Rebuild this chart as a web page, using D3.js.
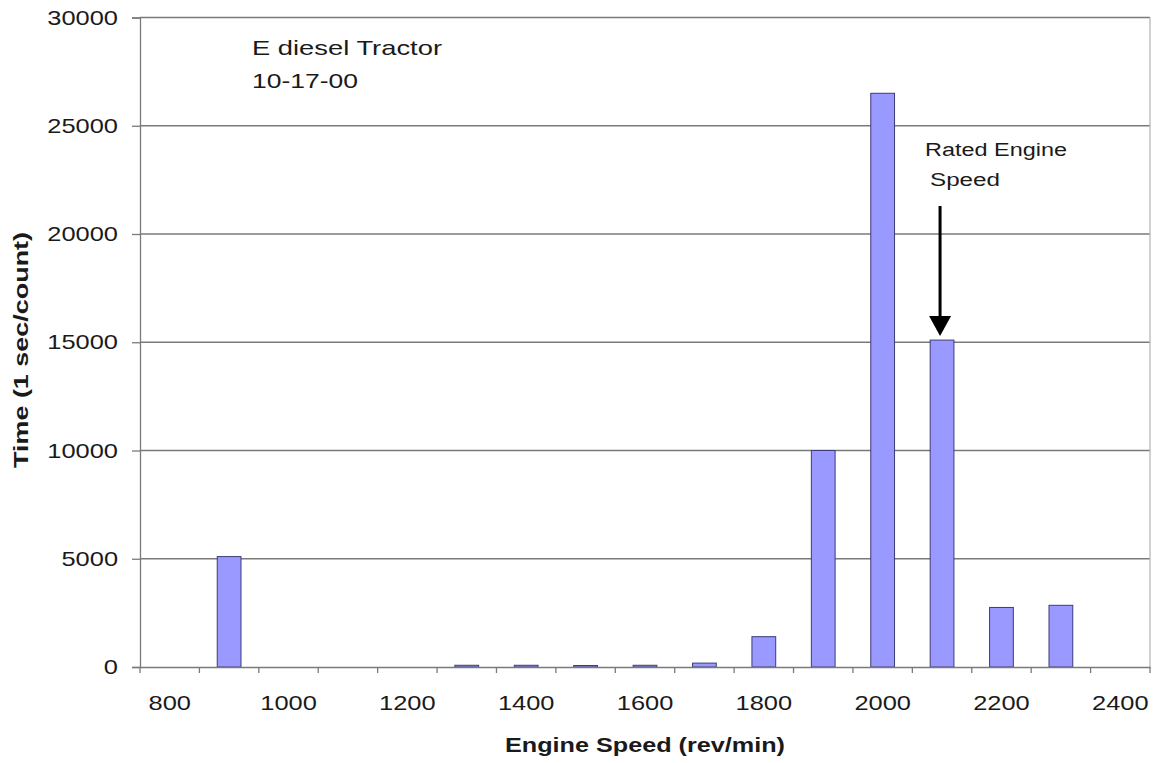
<!DOCTYPE html>
<html>
<head>
<meta charset="utf-8">
<script src="https://cdn.jsdelivr.net/npm/d3@7"></script>
<style>
  html, body { margin: 0; padding: 0; background: #fff; }
  text { font-family: Arial, "Liberation Sans", Helvetica, sans-serif; fill: #1a1a1a; }
</style>
</head>
<body>
<svg id="chart" width="1161" height="763"></svg>
<script>
// ---- data ----
const categories = [800, 900, 1000, 1100, 1200, 1300, 1400, 1500, 1600, 1700, 1800, 1900, 2000, 2100, 2200, 2300, 2400];
const timeCounts = [0, 5100, 0, 0, 0, 80, 80, 70, 80, 180, 1400, 10000, 26500, 15100, 2750, 2850, 0];
const xTickLabels = [800, 1000, 1200, 1400, 1600, 1800, 2000, 2200, 2400];
const yTicks = [0, 5000, 10000, 15000, 20000, 25000, 30000];
const ratedSpeed = 2100;

// ---- layout ----
const svg = d3.select("#chart");
const plotL = 140, plotR = 1150, plotT = 17.5, plotB = 667;
const stretch = 1.21;

const x = d3.scaleBand().domain(categories).range([plotL, plotR]).paddingInner(0.6).paddingOuter(0.3);
const y = d3.scaleLinear().domain([0, 30000]).range([plotB, plotT]);
const step = x.step();

function widen(sel, factor) {
  sel.each(function() {
    const w = this.getComputedTextLength();
    d3.select(this).attr("textLength", w * factor).attr("lengthAdjust", "spacingAndGlyphs");
  });
}

// gridlines
svg.append("g").selectAll("line").data(yTicks.filter(d => d > 0)).join("line")
  .attr("x1", plotL).attr("x2", plotR)
  .attr("y1", d => y(d)).attr("y2", d => y(d))
  .attr("stroke", "#7a7a7a").attr("stroke-width", 1.3);

// right border
svg.append("line").attr("x1", plotR).attr("x2", plotR).attr("y1", plotT).attr("y2", plotB)
  .attr("stroke", "#b8b8b8").attr("stroke-width", 1.3);

// bars
svg.append("g").selectAll("rect").data(categories).join("rect")
  .attr("x", (d) => x(d))
  .attr("width", x.bandwidth())
  .attr("y", (d, i) => y(timeCounts[i]))
  .attr("height", (d, i) => plotB - y(timeCounts[i]))
  .attr("fill", "#9999ff")
  .attr("stroke", (d, i) => timeCounts[i] > 0 ? "#3c3c78" : "none")
  .attr("stroke-width", 1);

// y axis
const yAxis = svg.append("g").attr("transform", `translate(${plotL},0)`)
  .call(d3.axisLeft(y).tickValues(yTicks).tickSize(8).tickPadding(14).tickFormat(d3.format("d")));
yAxis.select(".domain").attr("stroke", "#7a7a7a").attr("stroke-width", 1.3);
yAxis.selectAll(".tick line").attr("stroke", "#7a7a7a").attr("stroke-width", 1.3);
yAxis.selectAll(".tick text").style("font-size", "21px").attr("fill", "#1a1a1a").attr("font-family", null);
widen(yAxis.selectAll(".tick text"), stretch);

// x axis (labels at category centres, ticks at category boundaries)
const xAxis = svg.append("g").attr("transform", `translate(0,${plotB})`)
  .call(d3.axisBottom(x).tickSize(0).tickPadding(28)
    .tickFormat(d => xTickLabels.includes(d) ? d : ""));
xAxis.select(".domain").attr("stroke", "#7a7a7a").attr("stroke-width", 1.3);
xAxis.selectAll(".tick text").style("font-size", "21px").attr("fill", "#1a1a1a").attr("font-family", null);
widen(xAxis.selectAll(".tick text").filter(function() { return this.textContent !== ""; }), stretch);

const boundaries = categories.map(c => x(c) + x.bandwidth() / 2 - step / 2).concat([plotR]);
xAxis.append("g").selectAll("line").data(boundaries).join("line")
  .attr("x1", d => d).attr("x2", d => d).attr("y1", 0).attr("y2", 6)
  .attr("stroke", "#7a7a7a").attr("stroke-width", 1.3);

// axis titles
svg.append("text").attr("x", (plotL + plotR) / 2).attr("y", 752)
  .attr("text-anchor", "middle").style("font-size", "20px").style("font-weight", "bold")
  .attr("textLength", 280).attr("lengthAdjust", "spacingAndGlyphs")
  .text("Engine Speed (rev/min)");

svg.append("text").attr("transform", "translate(28,350) rotate(-90)")
  .attr("text-anchor", "middle").style("font-size", "20px").style("font-weight", "bold")
  .attr("textLength", 236).attr("lengthAdjust", "spacingAndGlyphs")
  .text("Time (1 sec/count)");

// annotations
svg.append("text").attr("x", 252).attr("y", 55).style("font-size", "21px")
  .attr("textLength", 190).attr("lengthAdjust", "spacingAndGlyphs").text("E diesel Tractor");
svg.append("text").attr("x", 252).attr("y", 88).style("font-size", "21px")
  .attr("textLength", 106).attr("lengthAdjust", "spacingAndGlyphs").text("10-17-00");

svg.append("text").attr("x", 925).attr("y", 156).style("font-size", "18px")
  .attr("textLength", 142).attr("lengthAdjust", "spacingAndGlyphs").text("Rated Engine");
svg.append("text").attr("x", 930).attr("y", 186).style("font-size", "18px")
  .attr("textLength", 70).attr("lengthAdjust", "spacingAndGlyphs").text("Speed");

// arrow to rated speed bar
const ai = categories.indexOf(ratedSpeed);
const ax = x(ratedSpeed) + x.bandwidth() / 2 - 2;
const tipY = y(timeCounts[ai]) - 4;
svg.append("line").attr("x1", ax).attr("x2", ax).attr("y1", 206).attr("y2", tipY - 16)
  .attr("stroke", "#000").attr("stroke-width", 3);
svg.append("path")
  .attr("d", `M${ax - 11},${tipY - 20} L${ax + 11},${tipY - 20} L${ax},${tipY} Z`)
  .attr("fill", "#000");
</script>
</body>
</html>
